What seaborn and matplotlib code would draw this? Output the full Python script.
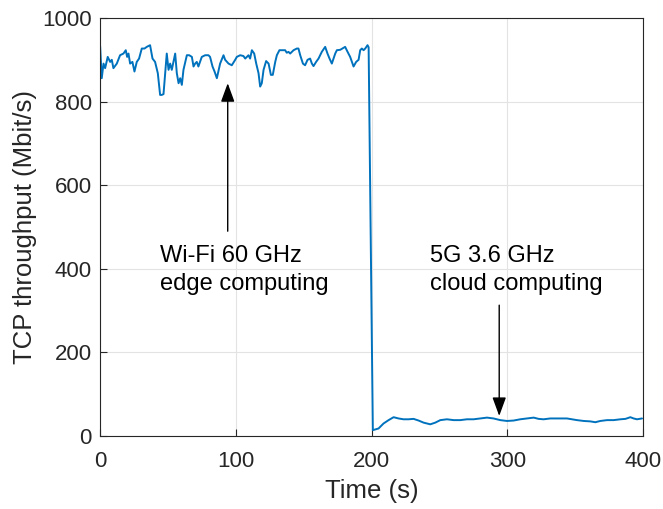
import matplotlib
matplotlib.use("Agg")
import matplotlib.pyplot as plt
import seaborn as sns
import pandas as pd

# ---- data ----
time_s = [0, 1.2, 2.5, 3.7, 5.6, 7.4, 8.6, 9.8, 12.3, 14.7, 17.2, 18.9, 19.9, 20.9,
          22.1, 23.8, 25.3, 27.0, 28.7, 30.7, 32.7, 34.4, 36.8, 38.6, 40.5, 42.5,
          44.2, 45.4, 46.7, 47.9, 49.1, 50.4, 51.6, 52.8, 55.3, 56.5, 57.8, 59.0,
          60.2, 61.4, 63.9, 65.6, 67.6, 68.8, 70.0, 71.2, 72.4, 74.9, 77.4, 79.8,
          81.0, 82.8, 84.3, 86.0, 88.4, 90.9, 92.1, 94.6, 97.0, 99.5,
          100.7, 103.2, 105.6, 106.9, 109.3, 110.5, 111.8, 113.5, 115.0, 116.7,
          117.9, 119.1, 120.4, 122.3, 124.1, 125.8, 127.2, 129.0, 130.2, 132.1,
          133.9, 136.3, 137.5, 138.8, 140.0, 142.5, 144.9, 146.1, 147.4, 149.4,
          151.0, 152.8, 154.7, 156.0, 157.2, 159.1, 160.9, 163.3, 165.8, 167.5,
          169.0, 170.7, 173.2, 174.4, 176.9, 180.5, 182.3, 184.2, 186.7, 188.6,
          190.4, 191.6, 192.8, 194.1, 195.3, 197.0, 197.8,
          200.9, 205.1, 208.8, 212.5, 216.2, 219.8, 223.5, 227.2, 230.9, 234.6,
          238.3, 243.2, 246.9, 250.6, 255.5, 260.4, 265.3, 270.2, 275.1, 280.0,
          285.0, 289.8, 294.8, 299.7, 304.6, 309.5, 314.4, 319.4, 323.0, 326.7,
          331.6, 336.5, 340.2, 343.9, 347.6, 351.3, 356.2, 361.1, 364.8, 368.5,
          373.4, 378.3, 383.3, 387.0, 390.6, 393.0, 395.5, 399.2]
throughput = [933, 856, 891, 880, 907, 895, 900, 880, 891, 911, 915, 923, 907, 915,
              891, 895, 872, 895, 903, 927, 927, 931, 935, 903, 895, 868,
              816, 816, 818, 868, 915, 876, 891, 876, 915, 868, 844, 856,
              840, 876, 911, 911, 907, 884, 891, 895, 884, 907, 911, 911,
              907, 884, 872, 856, 891, 911, 900, 891, 887, 900,
              907, 911, 909, 903, 911, 903, 923, 915, 891, 868,
              836, 844, 876, 897, 891, 864, 864, 895, 911, 923,
              923, 923, 917, 919, 915, 923, 927, 927, 911, 891,
              887, 900, 903, 891, 885, 895, 903, 919, 931, 915,
              903, 891, 915, 923, 924, 931, 919, 907, 884, 895,
              900, 923, 927, 923, 927, 935, 930,
              14, 18, 30, 38, 45, 42, 40, 40, 41, 37,
              32, 28, 32, 38, 40, 38, 38, 40, 40, 42,
              44, 42, 38, 36, 37, 40, 42, 44, 41, 40,
              42, 42, 42, 42, 40, 38, 36, 35, 33, 36,
              38, 38, 40, 41, 45, 42, 40, 42]

x_ticks = [0, 100, 200, 300, 400]
y_ticks = [0, 200, 400, 600, 800, 1000]

label_wifi = "Wi-Fi 60 GHz\nedge computing"
label_5g = "5G 3.6 GHz\ncloud computing"

df = pd.DataFrame({"Time (s)": time_s, "TCP throughput (Mbit/s)": throughput})

sns.set_style("ticks")
plt.rcParams['font.family'] = ['Liberation Sans', 'DejaVu Sans']

fig = plt.figure(figsize=(6.63, 5.09), dpi=100)
ax = fig.add_axes([0.151, 0.1434, 0.819, 0.8212])

sns.lineplot(data=df, x="Time (s)", y="TCP throughput (Mbit/s)", ax=ax,
             color="#0072BD", linewidth=1.4, estimator=None, sort=False)

ax.set_xlim(0, 400)
ax.set_ylim(0, 1000)
ax.set_xticks(x_ticks)
ax.set_yticks(y_ticks)

dark = "#262626"
ax.grid(True, color="#e3e3e3", linewidth=0.8)
ax.set_axisbelow(True)
for s in ax.spines.values():
    s.set_visible(True)
    s.set_color(dark)
    s.set_linewidth(0.8)
ax.tick_params(direction="in", length=5, width=0.8, colors=dark,
               labelsize=16, top=False, right=False)
ax.tick_params(axis="x", pad=11)
ax.tick_params(axis="y", pad=6)
ax.set_xlabel("Time (s)", fontsize=18.5, color=dark, labelpad=5)
ax.set_ylabel("TCP throughput (Mbit/s)", fontsize=18.5, color=dark, labelpad=4)

ax.text(44, 397, label_wifi, fontsize=17, color="black", ha="left", va="center",
        linespacing=1.33)
ax.text(243, 397, label_5g, fontsize=17, color="black", ha="left", va="center",
        linespacing=1.33)

arrow_kw = dict(arrowstyle="-|>,head_length=0.6,head_width=0.22", color="black",
                lw=1.0, shrinkA=0, shrinkB=0, mutation_scale=19)
ax.annotate("", xy=(94, 844), xytext=(94, 490), arrowprops=arrow_kw)
ax.annotate("", xy=(294, 48), xytext=(294, 313), arrowprops=arrow_kw)

fig.savefig("out.png", dpi=100)
